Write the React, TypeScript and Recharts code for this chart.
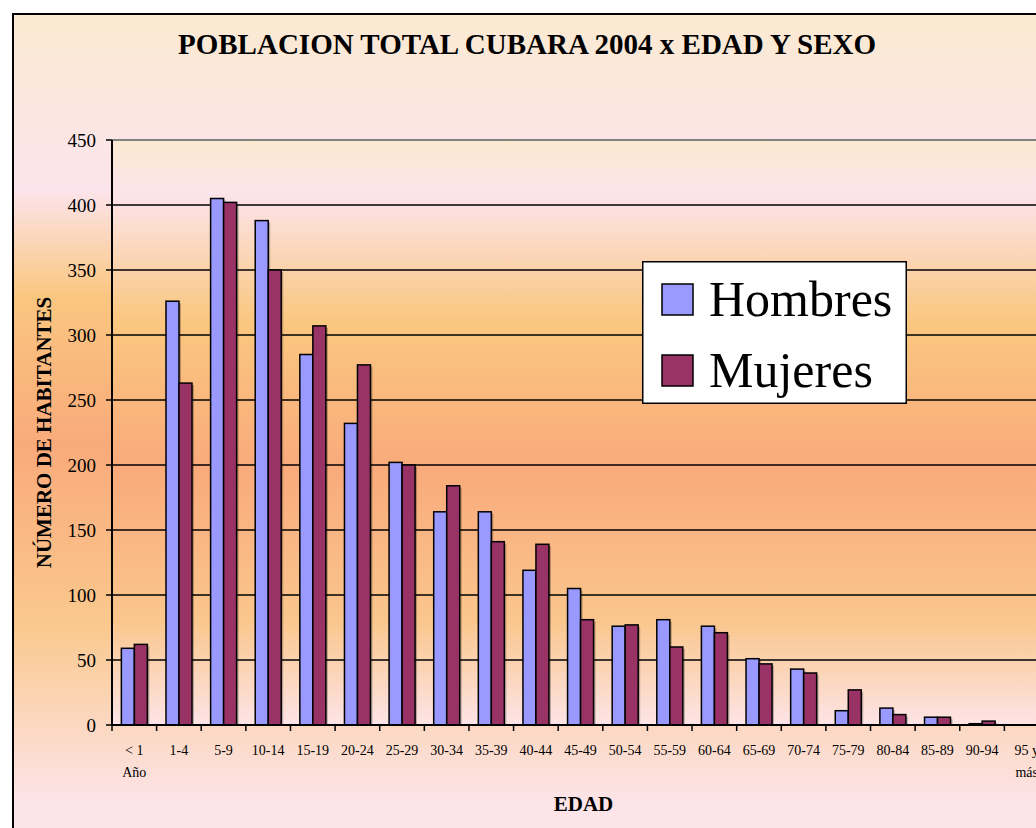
import React from "react";
import {
  BarChart,
  Bar,
  XAxis,
  YAxis,
  CartesianGrid,
  Legend,
  ReferenceLine,
} from "recharts";

const categories = [
  "< 1\nAño", "1-4", "5-9", "10-14", "15-19", "20-24", "25-29", "30-34",
  "35-39", "40-44", "45-49", "50-54", "55-59", "60-64", "65-69", "70-74",
  "75-79", "80-84", "85-89", "90-94", "95 y\nmás",
];
const hombres = [59, 326, 405, 388, 285, 232, 202, 164, 164, 119, 105, 76, 81, 76, 51, 43, 11, 13, 6, 1, 0];
const mujeres = [62, 263, 402, 350, 307, 277, 200, 184, 141, 139, 81, 77, 60, 71, 47, 40, 27, 8, 6, 3, 0];
const yTicks = [0, 50, 100, 150, 200, 250, 300, 350, 400, 450];

const data = categories.map((name, i) => ({
  name,
  Hombres: hombres[i],
  Mujeres: mujeres[i],
}));

const FONT = "'Liberation Serif', 'Times New Roman', serif";
const CHART_W = 1100;
const CHART_H = 830;
const MARGIN = { top: 125, right: 65, left: 28, bottom: 60 };
const Y_AXIS_W = 70;
const PLOT_W = CHART_W - MARGIN.left - MARGIN.right - Y_AXIS_W;
const BAND = PLOT_W / categories.length;

// Excel-like bar with a soft drop shadow
const ShadowBar = (props: any) => {
  const { x, y, width, height, fill } = props;
  if (!height || height <= 0) return null;
  return (
    <g>
      <rect x={x + 2} y={y + 2} width={width} height={Math.max(height - 2, 0)} fill="rgba(0,0,0,0.25)" />
      <rect x={x} y={y} width={width} height={height} fill={fill} stroke="#000" strokeWidth={1.5} />
    </g>
  );
};

// category labels, tick marks sit on the category boundaries
const AgeTick = (props: any) => {
  const { x, y, payload } = props;
  const lines = String(payload.value).split("\n");
  const bx = x - BAND / 2;
  return (
    <g>
      <line x1={bx} y1={y - 6} x2={bx} y2={y} stroke="#000" strokeWidth={1.5} />
      {lines.map((l, i) => (
        <text key={i} x={x} y={y + 24 + i * 22} textAnchor="middle" fontSize={14} fontFamily={FONT} fill="#000">
          {l}
        </text>
      ))}
    </g>
  );
};

const YLabel = (props: any) => {
  const vb = props.viewBox || { x: 28, y: 125, width: 70, height: 585 };
  const cx = vb.x + 2;
  const cy = vb.y + vb.height / 2;
  return (
    <text
      x={cx}
      y={cy}
      transform={`rotate(-90 ${cx} ${cy})`}
      textAnchor="middle"
      dominantBaseline="central"
      fontSize={21}
      fontWeight="bold"
      fontFamily={FONT}
      fill="#000"
    >
      NÚMERO DE HABITANTES
    </text>
  );
};

const XLabel = (props: any) => {
  const vb = props.viewBox || { x: 98, y: 710, width: PLOT_W, height: 60 };
  return (
    <text
      x={vb.x + vb.width / 2 + 3}
      y={vb.y + 86}
      textAnchor="middle"
      fontSize={21}
      fontWeight="bold"
      fontFamily={FONT}
      fill="#000"
    >
      EDAD
    </text>
  );
};

const renderLegend = (props: any) => {
  const { payload } = props;
  return (
    <svg width={265} height={143} style={{ display: "block" }}>
      <rect x={0.75} y={0.75} width={263.5} height={141.5} fill="#fff" stroke="#000" strokeWidth={1.5} />
      {(payload || []).map((entry: any, i: number) => (
        <g key={entry.value}>
          <rect x={20} y={23 + i * 71} width={31} height={31} fill={entry.color} stroke="#000" strokeWidth={1.5} />
          <text x={67} y={55 + i * 71} fontSize={50} fontFamily={FONT} fill="#000">
            {entry.value}
          </text>
        </g>
      ))}
    </svg>
  );
};

export default function App() {
  return (
    <div style={{ position: "absolute", left: 0, top: 0, width: 1036, height: 828, overflow: "hidden", background: "#fff" }}>
      <div
        style={{
          position: "absolute",
          left: 12,
          top: 13,
          width: CHART_W,
          height: CHART_H,
          border: "2px solid #000",
          background:
            "linear-gradient(to bottom, #FBEAD2 0%, #FCE4EC 21%, #FAC680 34%, #F9AA7B 52%, #FAC88D 73%, #FDE4E8 95%)",
        }}
      >
        <div
          style={{
            position: "absolute",
            left: 0,
            top: 15,
            width: 1026,
            textAlign: "center",
            fontFamily: FONT,
            fontWeight: "bold",
            fontSize: 29,
            lineHeight: "29px",
            color: "#000",
            whiteSpace: "nowrap",
          }}
        >
          POBLACION TOTAL CUBARA 2004 x EDAD Y SEXO
        </div>
        <BarChart
          width={CHART_W}
          height={CHART_H}
          data={data}
          margin={MARGIN}
          barCategoryGap="21%"
          barGap={0}
        >
          <defs>
            <linearGradient id="plotBg" x1="0" y1="0" x2="0" y2="1">
              <stop offset="0%" stopColor="#FBE8CF" />
              <stop offset="9%" stopColor="#FCE4EB" />
              <stop offset="31%" stopColor="#FAC77F" />
              <stop offset="56%" stopColor="#F9AA7B" />
              <stop offset="82%" stopColor="#FAC68C" />
              <stop offset="100%" stopColor="#FDE4E6" />
            </linearGradient>
          </defs>
          <CartesianGrid
            vertical={false}
            stroke="#000"
            strokeWidth={1.5}
            fill="url(#plotBg)"
            fillOpacity={1}
          />
          <XAxis
            dataKey="name"
            interval={0}
            tickLine={false}
            tickSize={6}
            tickMargin={0}
            height={60}
            axisLine={{ stroke: "#000", strokeWidth: 2 }}
            tick={<AgeTick />}
            label={<XLabel />}
          />
          <YAxis
            width={Y_AXIS_W}
            domain={[0, 450]}
            ticks={yTicks}
            interval={0}
            tickSize={6}
            tickMargin={10}
            axisLine={{ stroke: "#000", strokeWidth: 2 }}
            tickLine={{ stroke: "#000", strokeWidth: 1.5 }}
            tick={{ fontSize: 19, fontFamily: FONT, fill: "#000" }}
            label={<YLabel />}
          />
          <ReferenceLine y={450} stroke="#808080" strokeWidth={2} />
          <Legend
            layout="vertical"
            align="center"
            verticalAlign="middle"
            content={renderLegend}
            wrapperStyle={{ left: 628, top: 246, width: 265, height: 143 }}
          />
          <Bar dataKey="Hombres" fill="#9999FF" shape={<ShadowBar />} isAnimationActive={false} />
          <Bar dataKey="Mujeres" fill="#993366" shape={<ShadowBar />} isAnimationActive={false} />
        </BarChart>
      </div>
    </div>
  );
}
